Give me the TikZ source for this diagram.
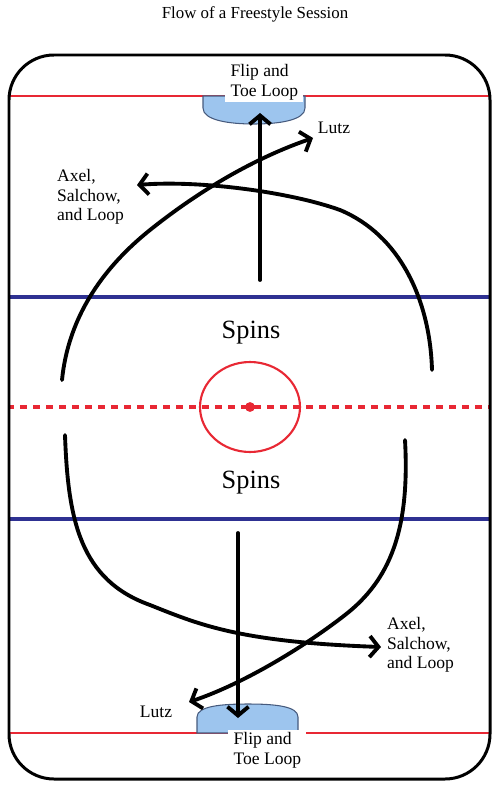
\documentclass[tikz,border=0pt]{standalone}
\usepackage{fontspec}
\setmainfont{Liberation Serif}
\usetikzlibrary{arrows.meta}
\definecolor{rinkred}{RGB}{232,40,52}
\definecolor{lineblue}{RGB}{46,49,146}
\definecolor{creaseblue}{RGB}{157,197,238}
\definecolor{creaseedge}{RGB}{70,90,125}
\begin{document}
\begin{tikzpicture}[x=0.02cm,y=-0.02cm,
  skate/.style={line width=2.2pt,line cap=round,line join=round,-{Straight Barb[length=5pt,width=12pt]}},
  crease/.style={fill=creaseblue,draw=creaseedge,line width=0.6pt},
  lbl/.style={font=\fontsize{10}{11.2}\selectfont,align=left,inner sep=1pt},
  zone/.style={font=\fontsize{15}{18}\selectfont}]
\useasboundingbox (0,0) rectangle (500,794);
\node (title) at (255,14) {\fontsize{9.6}{11}\selectfont Flow of a Freestyle Session};
% goal lines and creases
\draw[rinkred,line width=0.8pt] (9,96) -- (490,96);
\draw[rinkred,line width=0.8pt] (9,733) -- (490,733);
\draw[crease] (203,96) -- (203,108) .. controls (203,120) and (228,124) .. (254,124)
  .. controls (280,124) and (305,120) .. (305,108) -- (305,96) -- cycle;
\draw[crease] (197,733) -- (197,717) .. controls (197,706) and (222,704) .. (248,704)
  .. controls (274,704) and (298,706) .. (298,717) -- (298,733) -- cycle;
\node[lbl,fill=white,inner xsep=3pt,anchor=west] (flipTop) at (225,82) {Flip and\\Toe Loop};
\node[lbl,fill=white,inner xsep=3pt,anchor=west] (flipBot) at (228,750) {Flip and\\Toe Loop};
% blue lines, centre line and circle
\draw[lineblue,line width=2.8pt] (9,297) -- (490,297);
\draw[lineblue,line width=2.8pt] (9,519) -- (490,519);
\draw[rinkred,line width=2.8pt,dash pattern=on 3.8pt off 3.6pt,dash phase=1pt] (9,407) -- (490,407);
\draw[rinkred,line width=1.2pt] (250,407) ellipse [x radius=1cm,y radius=0.9cm];
\fill[rinkred] (250,407) circle [radius=2.8pt];
\draw[line width=1.7pt,rounded corners=0.9cm] (9,55) rectangle (490,779);
\node[zone] (spinsTop) at (251,333) {Spins};
\node[zone] (spinsBot) at (251,483) {Spins};
\node[lbl] (lutzTop) at (334,128) {Lutz};
\node[lbl] (lutzBot) at (156,712) {Lutz};
\node[lbl,anchor=west] (axelTop) at (55,197) {Axel,\\Salchow,\\and Loop};
\node[lbl,anchor=west] (axelBot) at (385,645) {Axel,\\Salchow,\\and Loop};
% skating paths
\coordinate (upTail) at (260,280);
\coordinate (upTip) at (260,113);
\coordinate (downTail) at (238,533);
\coordinate (downTip) at (238,718);
\coordinate (nwStart) at (62,380);
\coordinate (nwEnd) at (313,138);
\coordinate (neStart) at (432,370);
\coordinate (neEnd) at (137,185);
\coordinate (swStart) at (65,435);
\coordinate (swEnd) at (381,647);
\coordinate (seStart) at (405,440);
\coordinate (seEnd) at (189,702);
\draw[skate] (upTail) -- (upTip);
\draw[skate] (downTail) -- (downTip);
\draw[skate] (nwStart) .. controls (68,320) and (100,270) .. (150,230)
  .. controls (200,190) and (255,158) .. (nwEnd);
\draw[skate] (neStart) .. controls (430,300) and (400,235) .. (340,210)
  .. controls (290,192) and (200,180) .. (neEnd);
\draw[skate] (swStart) .. controls (68,520) and (80,580) .. (150,605)
  .. controls (200,625) and (240,642) .. (swEnd);
\draw[skate] (seStart) .. controls (410,530) and (390,580) .. (345,615)
  .. controls (300,650) and (240,685) .. (seEnd);
\end{tikzpicture}
\end{document}
